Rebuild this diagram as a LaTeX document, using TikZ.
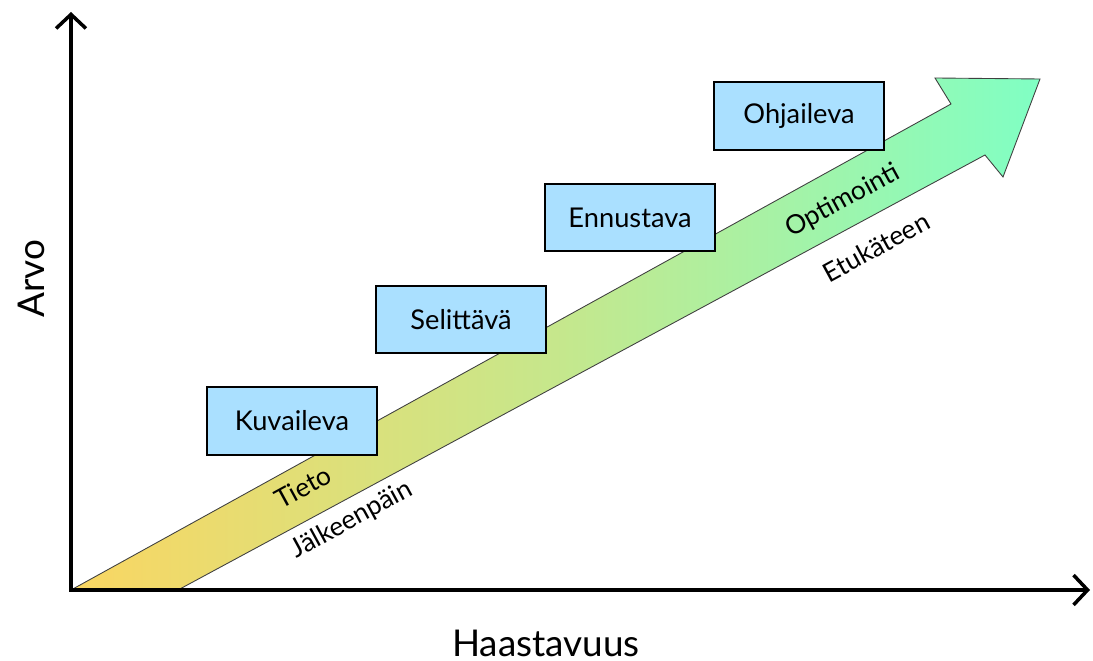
\documentclass[tikz,border=0pt]{standalone}
\usepackage{fontspec}
\setmainfont{Lato}
\usetikzlibrary{arrows.meta}
\definecolor{boxblue}{RGB}{170,224,255}
\definecolor{warm}{RGB}{250,214,98}
\definecolor{mid}{RGB}{198,231,140}
\definecolor{mint}{RGB}{128,255,196}
\tikzset{
  stagebox/.style={draw=black, line width=1.4pt, fill=boxblue, minimum width=3.4cm,
    minimum height=1.35cm, inner sep=0pt, font=\fontsize{15.5}{18}\selectfont},
  axis/.style={line width=2pt, -{Straight Barb[length=8pt,width=17pt,line width=2pt]}},
  bandlabel/.style={rotate=28.6, font=\fontsize{15}{18}\selectfont, inner sep=0pt},
  axislabel/.style={font=\fontsize{21}{24}\selectfont, inner sep=0pt}
}
\begin{document}
\begin{tikzpicture}[x=0.02cm, y=-0.02cm]
  \useasboundingbox (0,0) rectangle (1093,661);

  % the rising band with its arrow head
  \path[left color=warm, right color=mint, middle color=mid, draw=black!75, line width=0.5pt]
    (71,590) -- (951,104) -- (935,78) -- (1040,79) -- (1003,177) -- (985,155) -- (178,590) -- cycle;

  % axes
  \coordinate (o) at (71,590);
  \coordinate (ytop) at (71,12);
  \coordinate (xend) at (1090,590);
  \draw[axis, line cap=rect] (o) -- (ytop);
  \draw[axis, line cap=rect] (o) -- (xend);

  \node[axislabel, rotate=90] (arvo) at (31,279) {Arvo};
  \node[axislabel] (haast) at (546,643) {Haastavuus};

  % stages
  \node[stagebox] (kuv) at (292,421) {Kuvaileva};
  \node[stagebox] (sel) at (461,319.5) {Selittävä};
  \node[stagebox] (enn) at (630,217.5) {Ennustava};
  \node[stagebox] (ohj) at (799,116) {Ohjaileva};

  % labels along the band
  \node[bandlabel] (tieto) at (303,487) {Tieto};
  \node[bandlabel] (jalk) at (352,520) {Jälkeenpäin};
  \node[bandlabel] (opt) at (843,201) {Optimointi};
  \node[bandlabel] (etu) at (876,247) {Etukäteen};
\end{tikzpicture}
\end{document}
